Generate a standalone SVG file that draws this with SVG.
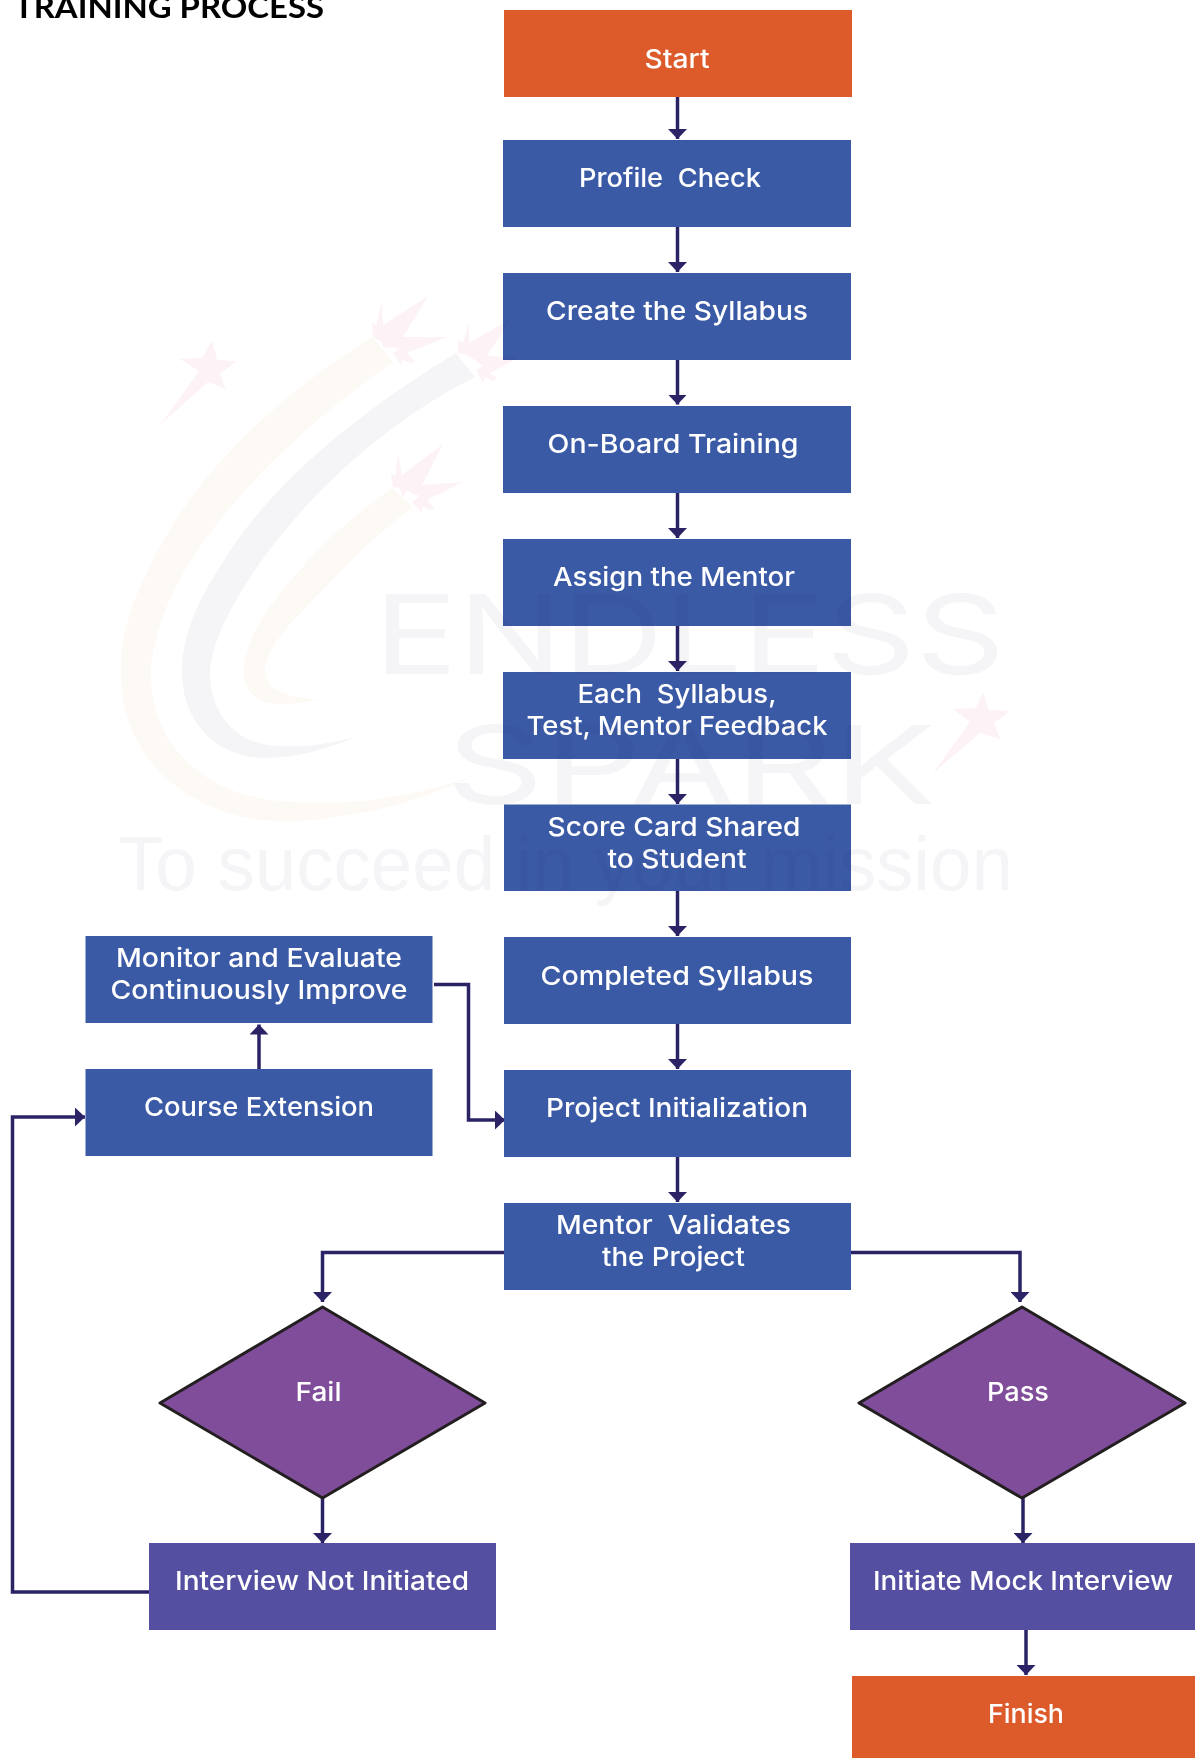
<svg xmlns="http://www.w3.org/2000/svg" width="1195" height="1758" viewBox="0 0 1195 1758">
<style>
.t{font-family:"Inter","Noto Sans",sans-serif;font-size:26px;font-weight:500;fill:#fff;text-anchor:middle}
.title{font-family:"Lato","Liberation Sans",sans-serif;font-size:30px;font-weight:700;fill:#000}
.blue{fill:#3b5aa6}.orange{fill:#dd5a2a}.indigo{fill:#544fa0}
.dia{fill:#804d9b;stroke:#231f20;stroke-width:3;stroke-linejoin:round}
.wm{font-family:"Liberation Sans",sans-serif;fill:#f5f5f7}
.wt{font-family:"Inter",sans-serif;font-weight:400;fill:#f5f5f7}
.c{fill:none;stroke:#2a2467;stroke-width:3.500;marker-end:url(#ah)}
#watermark{mix-blend-mode:multiply}
</style>
<defs>
<marker id="ah" markerUnits="userSpaceOnUse" viewBox="0 0 10 19" refX="10" refY="9.5" markerWidth="10" markerHeight="19" orient="auto"><path d="M0 0L10 9.5L0 19Z" fill="#2a2467"/></marker>
</defs>
<rect width="1195" height="1758" fill="#fff"/>
<text id="title" class="title" x="14" y="18" textLength="310" lengthAdjust="spacingAndGlyphs">TRAINING PROCESS</text>
<g id="connectors">
<path class="c" d="M677.5 97V139"/>
<path class="c" d="M677.5 227V272"/>
<path class="c" d="M677.5 360V404.500"/>
<path class="c" d="M677.5 493V538"/>
<path class="c" d="M677.5 626V671"/>
<path class="c" d="M677.5 759V804"/>
<path class="c" d="M677.5 891V936"/>
<path class="c" d="M677.5 1024V1069"/>
<path class="c" d="M677.5 1157V1202"/>
<path class="c" d="M259 1069V1024.500"/>
<path class="c" d="M434 984.500H468.500V1120H505"/>
<path class="c" d="M504 1252.500H322.500V1302"/>
<path class="c" d="M851 1252.500H1020V1302"/>
<path class="c" d="M322.500 1498V1543"/>
<path class="c" d="M1023 1498V1543"/>
<path class="c" d="M1026 1630V1675"/>
<path class="c" d="M149 1592H12.500V1117H85"/>
</g>
<g id="start"><rect class="orange" x="504" y="10" width="348" height="87"/><text class="t" x="677" y="68" textLength="65" lengthAdjust="spacingAndGlyphs">Start</text></g>
<g id="profile-check"><rect class="blue" x="503" y="140" width="348" height="87"/><text class="t" x="670" y="187" textLength="182" lengthAdjust="spacingAndGlyphs" xml:space="preserve">Profile  Check</text></g>
<g id="create-syllabus"><rect class="blue" x="503" y="273" width="348" height="87"/><text class="t" x="677" y="320" textLength="262" lengthAdjust="spacingAndGlyphs">Create the Syllabus</text></g>
<g id="on-board"><rect class="blue" x="503" y="406" width="348" height="87"/><text class="t" x="673" y="453" textLength="251" lengthAdjust="spacingAndGlyphs">On-Board Training</text></g>
<g id="assign-mentor"><rect class="blue" x="503" y="539" width="348" height="87"/><text class="t" x="674" y="586" textLength="242" lengthAdjust="spacingAndGlyphs">Assign the Mentor</text></g>
<g id="feedback"><rect class="blue" x="503" y="672" width="348" height="87"/><text class="t" x="677" y="703" textLength="199" lengthAdjust="spacingAndGlyphs" xml:space="preserve">Each  Syllabus,</text><text class="t" x="677" y="735" textLength="301" lengthAdjust="spacingAndGlyphs">Test, Mentor Feedback</text></g>
<g id="score-card"><rect class="blue" x="504" y="804.500" width="347" height="86.500"/><text class="t" x="674" y="836" textLength="253" lengthAdjust="spacingAndGlyphs">Score Card Shared</text><text class="t" x="677" y="868" textLength="139" lengthAdjust="spacingAndGlyphs">to Student</text></g>
<g id="completed-syllabus"><rect class="blue" x="504" y="937" width="347" height="87"/><text class="t" x="677" y="985" textLength="273" lengthAdjust="spacingAndGlyphs">Completed Syllabus</text></g>
<g id="project-init"><rect class="blue" x="504" y="1070" width="347" height="87"/><text class="t" x="677" y="1117" textLength="262" lengthAdjust="spacingAndGlyphs">Project Initialization</text></g>
<g id="mentor-validates"><rect class="blue" x="504" y="1203" width="347" height="87"/><text class="t" x="673.500" y="1234" textLength="235" lengthAdjust="spacingAndGlyphs" xml:space="preserve">Mentor  Validates</text><text class="t" x="673.500" y="1266" textLength="143" lengthAdjust="spacingAndGlyphs">the Project</text></g>
<g id="monitor"><rect class="blue" x="85.500" y="936" width="347" height="87"/><text class="t" x="259" y="967" textLength="286" lengthAdjust="spacingAndGlyphs">Monitor and Evaluate</text><text class="t" x="259" y="999" textLength="297" lengthAdjust="spacingAndGlyphs">Continuously Improve</text></g>
<g id="course-extension"><rect class="blue" x="85.500" y="1069" width="347" height="87"/><text class="t" x="259" y="1116" textLength="230" lengthAdjust="spacingAndGlyphs">Course Extension</text></g>
<g id="fail"><path class="dia" d="M322.500 1307L485 1403L322.500 1498L160 1403Z"/><text class="t" x="318.500" y="1401" textLength="46" lengthAdjust="spacingAndGlyphs">Fail</text></g>
<g id="pass"><path class="dia" d="M1022 1307L1185 1403L1022 1498L859 1403Z"/><text class="t" x="1018" y="1401" textLength="62" lengthAdjust="spacingAndGlyphs">Pass</text></g>
<g id="interview-not-initiated"><rect class="indigo" x="149" y="1543" width="347" height="87"/><text class="t" x="322" y="1590" textLength="294" lengthAdjust="spacingAndGlyphs">Interview Not Initiated</text></g>
<g id="mock-interview"><rect class="indigo" x="850" y="1543" width="345" height="87"/><text class="t" x="1023" y="1590" textLength="300" lengthAdjust="spacingAndGlyphs">Initiate Mock Interview</text></g>
<g id="finish"><rect class="orange" x="852" y="1676" width="343" height="82"/><text class="t" x="1026" y="1723" textLength="76" lengthAdjust="spacingAndGlyphs">Finish</text></g>
<g id="watermark">
<path d="M372 337C280 395 195 470 148 570C128 610 121 640 121 672C121 770 205 825 294 821C360 818 425 800 476 775C420 795 360 806 295 802C205 800 150 745 151 672C152 640 165 605 185 570C230 495 310 420 393 362Z" fill="#fdf9f5"/>
<path d="M456 353C370 405 270 480 218 570C195 605 182 640 182 672C182 725 220 760 270 758C300 757 330 748 358 736C325 746 295 748 268 745C232 740 210 710 210 672C212 640 232 605 255 570C310 490 390 420 475 377Z" fill="#f5f5f7"/>
<path d="M392 488C355 515 325 540 300 570C268 605 244 640 244 672C244 695 262 706 288 704C298 703 308 702 318 700C290 698 263 690 265 668C268 640 305 610 342 570C365 545 390 525 413 507Z" fill="#fdf9f5"/>
<g fill="#fdf2f6">
<path d="M382 302L383 325L428 296L403 337L447 337L407 353L415 361L412 363L402 360L402 366L393 353L400 349L392 347L383 348L382 342L373 337L372 322L376 325Z"/>
<path d="M469 322L469 343L512 318L487 356L520 357L490 373L497 378L493 381L485 377L483 383L476 370L483 366L475 360L467 355L458 353L458 340L463 343Z"/>
<path d="M398 453L402 475L443 444L422 485L463 482L427 500L434 508L430 510L422 507L422 513L412 502L420 496L410 493L408 490L402 497L400 488L393 487L391 473L395 476Z"/>
<path d="M212 340L217 360L237 361L220 374L226 389L208 382L161 424L199 371L180 359L202 358Z"/>
<path d="M983 692L989 710L1010 711L994 723L1000 739L980 733L933 773L970 722L953 709L976 708Z"/>
</g>
<text class="wt" x="374" y="674" font-size="110" textLength="631" lengthAdjust="spacingAndGlyphs">ENDLESS</text>
<text class="wt" x="446" y="804" font-size="108" textLength="490" lengthAdjust="spacingAndGlyphs">SPARK</text>
<text class="wm" x="118" y="890" font-size="76" textLength="895" lengthAdjust="spacingAndGlyphs">To succeed in your mission</text>
</g>
</svg>
